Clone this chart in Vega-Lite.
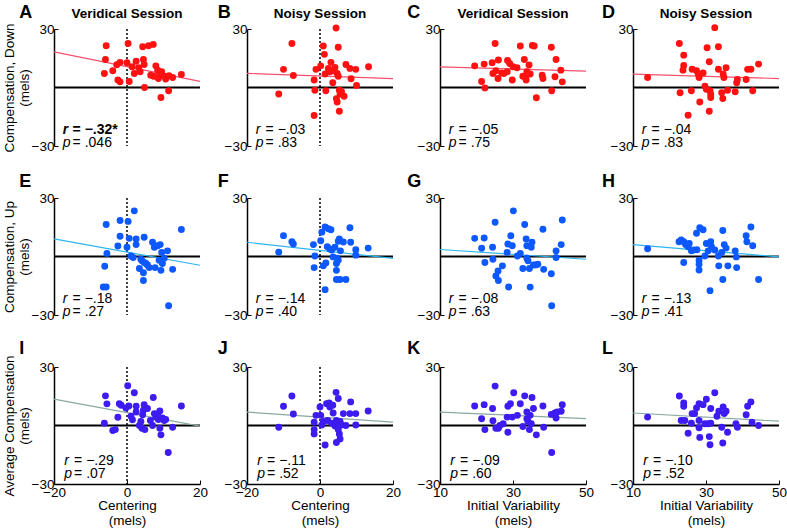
{
"$schema":"https://vega.github.io/schema/vega-lite/v6.json",
"padding":{"left":2,"top":3,"right":5,"bottom":2},
"datasets":{
"st":[
{"panel":"A","title":"Veridical Session","r":"= −.32*","p":"= .046"},
{"panel":"B","title":"Noisy Session","r":"= −.03","p":"= .83"},
{"panel":"C","title":"Veridical Session","r":"= −.05","p":"= .75"},
{"panel":"D","title":"Noisy Session","r":"= −.04","p":"= .83"},
{"panel":"E","title":"","r":"= −.18","p":"= .27"},
{"panel":"F","title":"","r":"= −.14","p":"= .40"},
{"panel":"G","title":"","r":"= −.08","p":"= .63"},
{"panel":"H","title":"","r":"= −.13","p":"= .41"},
{"panel":"I","title":"","r":"= −.29","p":"= .07"},
{"panel":"J","title":"","r":"= −.11","p":"= .52"},
{"panel":"K","title":"","r":"= −.09","p":"= .60"},
{"panel":"L","title":"","r":"= −.10","p":"= .52"}
],
"fit":[
{"panel":"A","x":-20,"y":18.3},{"panel":"A","x":20,"y":3.1},
{"panel":"B","x":-20,"y":7.2},{"panel":"B","x":20,"y":4.6},
{"panel":"C","x":10,"y":10.6},{"panel":"C","x":50,"y":8.4},
{"panel":"D","x":10,"y":6.9},{"panel":"D","x":50,"y":4.6},
{"panel":"E","x":-20,"y":9.0},{"panel":"E","x":20,"y":-4.5},
{"panel":"F","x":-20,"y":7.3},{"panel":"F","x":20,"y":-1.0},
{"panel":"G","x":10,"y":3.6},{"panel":"G","x":50,"y":-1.4},
{"panel":"H","x":10,"y":6.1},{"panel":"H","x":50,"y":-0.2},
{"panel":"I","x":-20,"y":13.5},{"panel":"I","x":20,"y":-0.3},
{"panel":"J","x":-20,"y":6.9},{"panel":"J","x":20,"y":1.7},
{"panel":"K","x":10,"y":6.9},{"panel":"K","x":50,"y":3.5},
{"panel":"L","x":10,"y":6.4},{"panel":"L","x":50,"y":2.2}
],
"pts":[
{"panel":"A","x":-5.7,"y":21.4},{"panel":"A","x":-5.9,"y":14.4},{"panel":"A","x":-6.2,"y":7.2},{"panel":"A","x":-3.9,"y":8.6},{"panel":"A","x":-2.8,"y":11.7},{"panel":"A","x":-1.9,"y":12.9},{"panel":"A","x":-2.5,"y":3.8},{"panel":"A","x":-1.9,"y":2.9},{"panel":"A","x":0.3,"y":22.6},{"panel":"A","x":0,"y":12.7},{"panel":"A","x":0.6,"y":3.1},{"panel":"A","x":1.4,"y":10.6},{"panel":"A","x":2.0,"y":7.2},{"panel":"A","x":2.5,"y":13.5},{"panel":"A","x":3.2,"y":10.1},{"panel":"A","x":3.6,"y":8.1},{"panel":"A","x":4.3,"y":20.9},{"panel":"A","x":4.5,"y":14.4},{"panel":"A","x":4.7,"y":11.8},{"panel":"A","x":4.8,"y":0},{"panel":"A","x":5.9,"y":21.4},{"panel":"A","x":7.2,"y":22.1},{"panel":"A","x":6.5,"y":6.3},{"panel":"A","x":7.3,"y":5.8},{"panel":"A","x":7.9,"y":11.1},{"panel":"A","x":8.4,"y":8.9},{"panel":"A","x":8.6,"y":4.6},{"panel":"A","x":9.0,"y":6.9},{"panel":"A","x":9.3,"y":-5.1},{"panel":"A","x":9.5,"y":8.1},{"panel":"A","x":10.2,"y":5.8},{"panel":"A","x":10.6,"y":4.3},{"panel":"A","x":11.4,"y":-1.7},{"panel":"A","x":11.5,"y":6.0},{"panel":"A","x":12.5,"y":5.1},{"panel":"A","x":14.9,"y":6.7},
{"panel":"B","x":-11.3,"y":-3.3},{"panel":"B","x":-10,"y":9.3},{"panel":"B","x":-7.7,"y":22.6},{"panel":"B","x":-7.3,"y":6.2},{"panel":"B","x":-1.6,"y":3.8},{"panel":"B","x":-1.4,"y":-1.4},{"panel":"B","x":-1.6,"y":-14.4},{"panel":"B","x":-1.1,"y":9.3},{"panel":"B","x":0.2,"y":11.1},{"panel":"B","x":0.9,"y":21.3},{"panel":"B","x":1.2,"y":17.0},{"panel":"B","x":1.4,"y":6.9},{"panel":"B","x":1.6,"y":-1.7},{"panel":"B","x":2.3,"y":9.8},{"panel":"B","x":2.7,"y":8.1},{"panel":"B","x":3.0,"y":12.9},{"panel":"B","x":3.5,"y":2.4},{"panel":"B","x":3.6,"y":8.6},{"panel":"B","x":4.1,"y":10.3},{"panel":"B","x":4.4,"y":30.5},{"panel":"B","x":4.7,"y":7.2},{"panel":"B","x":5.0,"y":5.8},{"panel":"B","x":5.0,"y":20.6},{"panel":"B","x":4.5,"y":-5.7},{"panel":"B","x":4.7,"y":-7.4},{"panel":"B","x":5.3,"y":-1.4},{"panel":"B","x":5.5,"y":-3.4},{"panel":"B","x":5.3,"y":-12.2},{"panel":"B","x":5.9,"y":-2.2},{"panel":"B","x":6.6,"y":-4.5},{"panel":"B","x":7.1,"y":11.8},{"panel":"B","x":8.2,"y":9.8},{"panel":"B","x":8.5,"y":4.5},{"panel":"B","x":9.8,"y":9.3},{"panel":"B","x":10,"y":1.0},{"panel":"B","x":13.3,"y":10.6},
{"panel":"C","x":19.5,"y":11.1},{"panel":"C","x":21.4,"y":3.1},{"panel":"C","x":22.3,"y":-0.2},{"panel":"C","x":22.1,"y":12.0},{"panel":"C","x":24.3,"y":12.7},{"panel":"C","x":24.5,"y":7.2},{"panel":"C","x":25.1,"y":22.6},{"panel":"C","x":25.3,"y":8.6},{"panel":"C","x":26.0,"y":14.1},{"panel":"C","x":25.9,"y":4.6},{"panel":"C","x":26.9,"y":7.5},{"panel":"C","x":27.5,"y":7.2},{"panel":"C","x":28.5,"y":13.9},{"panel":"C","x":28.4,"y":8.1},{"panel":"C","x":29.1,"y":12.3},{"panel":"C","x":29.8,"y":3.8},{"panel":"C","x":30.0,"y":10.6},{"panel":"C","x":31.1,"y":10.1},{"panel":"C","x":32.0,"y":21.3},{"panel":"C","x":33.1,"y":14.4},{"panel":"C","x":32.7,"y":5.8},{"panel":"C","x":33.5,"y":5.1},{"panel":"C","x":33.6,"y":3.8},{"panel":"C","x":33.8,"y":8.1},{"panel":"C","x":34.4,"y":11.5},{"panel":"C","x":34.7,"y":6.9},{"panel":"C","x":35.3,"y":21.6},{"panel":"C","x":35.8,"y":21.3},{"panel":"C","x":36.4,"y":-5.3},{"panel":"C","x":38.0,"y":6.3},{"panel":"C","x":38.2,"y":4.6},{"panel":"C","x":40.5,"y":20.6},{"panel":"C","x":40.6,"y":-1.7},{"panel":"C","x":41.5,"y":5.5},{"panel":"C","x":41.8,"y":14.4},{"panel":"C","x":43.1,"y":8.9},{"panel":"C","x":43.5,"y":2.9},
{"panel":"D","x":14.0,"y":5.1},{"panel":"D","x":22.7,"y":22.6},{"panel":"D","x":23.9,"y":16.6},{"panel":"D","x":23.9,"y":11.3},{"panel":"D","x":23.7,"y":8.9},{"panel":"D","x":22.9,"y":-2.7},{"panel":"D","x":25.1,"y":-14.2},{"panel":"D","x":26.0,"y":-1.7},{"panel":"D","x":26.2,"y":9.4},{"panel":"D","x":27.4,"y":8.6},{"panel":"D","x":27.9,"y":6.9},{"panel":"D","x":28.1,"y":5.1},{"panel":"D","x":28.3,"y":-7.4},{"panel":"D","x":29.2,"y":7.5},{"panel":"D","x":29.7,"y":0.7},{"panel":"D","x":30.1,"y":-0.9},{"panel":"D","x":30.3,"y":20.4},{"panel":"D","x":30.9,"y":13.2},{"panel":"D","x":31.1,"y":-1.7},{"panel":"D","x":31.3,"y":-3.4},{"panel":"D","x":31.3,"y":-5.1},{"panel":"D","x":30.9,"y":-12.2},{"panel":"D","x":32.4,"y":30.7},{"panel":"D","x":33.4,"y":20.9},{"panel":"D","x":33.4,"y":9.4},{"panel":"D","x":34.3,"y":-2.7},{"panel":"D","x":34.6,"y":-5.7},{"panel":"D","x":34.7,"y":6.9},{"panel":"D","x":34.9,"y":5.1},{"panel":"D","x":35.5,"y":10.1},{"panel":"D","x":35.9,"y":-1.4},{"panel":"D","x":38.0,"y":-2.2},{"panel":"D","x":38.4,"y":2.4},{"panel":"D","x":38.6,"y":4.1},{"panel":"D","x":41.0,"y":4.1},{"panel":"D","x":41.4,"y":9.3},{"panel":"D","x":42.3,"y":9.4},{"panel":"D","x":42.8,"y":-1.7},{"panel":"D","x":44.4,"y":12.0},
{"panel":"E","x":-5.7,"y":16.4},{"panel":"E","x":-6.1,"y":-5.0},{"panel":"E","x":-5.5,"y":1.6},{"panel":"E","x":-6.5,"y":-15.6},{"panel":"E","x":-5.7,"y":-15.6},{"panel":"E","x":-2.5,"y":5.4},{"panel":"E","x":-1.9,"y":10.4},{"panel":"E","x":-1.9,"y":18.5},{"panel":"E","x":0.3,"y":18.0},{"panel":"E","x":0,"y":4.7},{"panel":"E","x":0.6,"y":9.3},{"panel":"E","x":1.1,"y":0.3},{"panel":"E","x":1.7,"y":-0.5},{"panel":"E","x":2.0,"y":23.4},{"panel":"E","x":2.5,"y":9.0},{"panel":"E","x":2.5,"y":6.1},{"panel":"E","x":3.4,"y":-6.2},{"panel":"E","x":3.8,"y":-1.4},{"panel":"E","x":4.1,"y":-2.2},{"panel":"E","x":4.5,"y":-8.3},{"panel":"E","x":4.5,"y":-12.3},{"panel":"E","x":4.7,"y":9.9},{"panel":"E","x":4.7,"y":-3.1},{"panel":"E","x":5.2,"y":-3.6},{"panel":"E","x":5.6,"y":-4.3},{"panel":"E","x":6.1,"y":-5.7},{"panel":"E","x":7.0,"y":7.3},{"panel":"E","x":7.5,"y":4.7},{"panel":"E","x":7.7,"y":-5.7},{"panel":"E","x":8.4,"y":5.5},{"panel":"E","x":8.8,"y":-1.9},{"panel":"E","x":9.1,"y":6.1},{"panel":"E","x":9.3,"y":-7.1},{"panel":"E","x":9.5,"y":2.1},{"panel":"E","x":9.7,"y":-3.6},{"panel":"E","x":10.2,"y":-0.9},{"panel":"E","x":11.1,"y":2.9},{"panel":"E","x":11.4,"y":-25.3},{"panel":"E","x":12.5,"y":-6.6},{"panel":"E","x":14.9,"y":13.8},
{"panel":"F","x":-11.3,"y":2.2},{"panel":"F","x":-10,"y":10.7},{"panel":"F","x":-7.7,"y":7.6},{"panel":"F","x":-7.3,"y":6.4},{"panel":"F","x":-1.8,"y":6.1},{"panel":"F","x":-1.6,"y":-5.7},{"panel":"F","x":-1.4,"y":0.3},{"panel":"F","x":0.2,"y":8.1},{"panel":"F","x":0.5,"y":12.5},{"panel":"F","x":0.9,"y":-4.8},{"panel":"F","x":1.4,"y":15.1},{"panel":"F","x":1.6,"y":-3.3},{"panel":"F","x":1.4,"y":-17.0},{"panel":"F","x":2.0,"y":5.0},{"panel":"F","x":2.3,"y":14.2},{"panel":"F","x":3.0,"y":13.7},{"panel":"F","x":2.7,"y":3.8},{"panel":"F","x":3.2,"y":3.3},{"panel":"F","x":3.6,"y":-0.2},{"panel":"F","x":4.1,"y":4.7},{"panel":"F","x":4.5,"y":-7.1},{"panel":"F","x":4.5,"y":-11.8},{"panel":"F","x":4.5,"y":-3.6},{"panel":"F","x":4.7,"y":-0.9},{"panel":"F","x":5.0,"y":-1.9},{"panel":"F","x":5.0,"y":7.8},{"panel":"F","x":5.3,"y":9.0},{"panel":"F","x":5.5,"y":-11.8},{"panel":"F","x":5.6,"y":2.9},{"panel":"F","x":6.4,"y":7.4},{"panel":"F","x":7.1,"y":-11.8},{"panel":"F","x":8.2,"y":14.7},{"panel":"F","x":8.4,"y":7.3},{"panel":"F","x":9.8,"y":3.5},{"panel":"F","x":9.8,"y":0.7},{"panel":"F","x":13.2,"y":4.3},
{"panel":"G","x":19.5,"y":9.3},{"panel":"G","x":21.4,"y":4.2},{"panel":"G","x":22.3,"y":-3.1},{"panel":"G","x":22.1,"y":9.5},{"panel":"G","x":24.4,"y":4.7},{"panel":"G","x":24.5,"y":-1.4},{"panel":"G","x":25.1,"y":17.6},{"panel":"G","x":25.3,"y":-10.0},{"panel":"G","x":25.9,"y":-7.4},{"panel":"G","x":26.0,"y":-12.3},{"panel":"G","x":27.1,"y":-4.8},{"panel":"G","x":28.4,"y":2.1},{"panel":"G","x":28.6,"y":6.4},{"panel":"G","x":28.8,"y":-15.6},{"panel":"G","x":29.4,"y":10.6},{"panel":"G","x":29.8,"y":5.5},{"panel":"G","x":30.1,"y":23.4},{"panel":"G","x":31.2,"y":0.3},{"panel":"G","x":32.0,"y":1.6},{"panel":"G","x":32.7,"y":-6.2},{"panel":"G","x":33.2,"y":16.4},{"panel":"G","x":33.6,"y":9.0},{"panel":"G","x":33.8,"y":5.5},{"panel":"G","x":33.8,"y":-0.9},{"panel":"G","x":34.1,"y":-2.2},{"panel":"G","x":34.5,"y":-6.2},{"panel":"G","x":34.7,"y":-15.7},{"panel":"G","x":35.0,"y":4.7},{"panel":"G","x":35.2,"y":7.3},{"panel":"G","x":35.6,"y":-4.3},{"panel":"G","x":36.2,"y":-4.3},{"panel":"G","x":36.8,"y":-4.0},{"panel":"G","x":38.2,"y":14.0},{"panel":"G","x":38.4,"y":-6.6},{"panel":"G","x":40.5,"y":-8.8},{"panel":"G","x":40.6,"y":-25.3},{"panel":"G","x":41.8,"y":2.9},{"panel":"G","x":41.8,"y":-0.5},{"panel":"G","x":43.2,"y":6.1},{"panel":"G","x":43.5,"y":18.7},
{"panel":"H","x":14.0,"y":4.0},{"panel":"H","x":22.6,"y":7.6},{"panel":"H","x":23.2,"y":8.5},{"panel":"H","x":23.9,"y":7.6},{"panel":"H","x":23.9,"y":-3.1},{"panel":"H","x":24.4,"y":6.1},{"panel":"H","x":25.1,"y":5.0},{"panel":"H","x":25.4,"y":6.7},{"panel":"H","x":26.0,"y":2.9},{"panel":"H","x":26.6,"y":3.3},{"panel":"H","x":27.4,"y":11.9},{"panel":"H","x":27.5,"y":3.5},{"panel":"H","x":28.1,"y":-1.9},{"panel":"H","x":28.1,"y":-4.0},{"panel":"H","x":28.1,"y":-6.9},{"panel":"H","x":28.3,"y":14.7},{"panel":"H","x":29.2,"y":13.7},{"panel":"H","x":29.7,"y":0.3},{"panel":"H","x":30.1,"y":6.7},{"panel":"H","x":30.6,"y":2.9},{"panel":"H","x":31.1,"y":-17.5},{"panel":"H","x":31.3,"y":7.6},{"panel":"H","x":31.5,"y":5.0},{"panel":"H","x":32.4,"y":3.3},{"panel":"H","x":33.4,"y":0.3},{"panel":"H","x":33.5,"y":-4.8},{"panel":"H","x":34.3,"y":2.1},{"panel":"H","x":34.6,"y":13.3},{"panel":"H","x":34.6,"y":-11.8},{"panel":"H","x":35.0,"y":6.1},{"panel":"H","x":35.5,"y":4.3},{"panel":"H","x":36.0,"y":-4.8},{"panel":"H","x":38.0,"y":2.9},{"panel":"H","x":38.3,"y":-0.2},{"panel":"H","x":38.4,"y":-5.7},{"panel":"H","x":41.0,"y":10.7},{"panel":"H","x":41.2,"y":7.6},{"panel":"H","x":42.3,"y":15.1},{"panel":"H","x":42.8,"y":5.5},{"panel":"H","x":44.4,"y":-11.8},
{"panel":"I","x":-5.9,"y":15.2},{"panel":"I","x":-5.5,"y":11.1},{"panel":"I","x":-6.2,"y":1.2},{"panel":"I","x":-3.9,"y":-2.6},{"panel":"I","x":-3.2,"y":-2.1},{"panel":"I","x":-2.5,"y":4.2},{"panel":"I","x":-2.1,"y":11.2},{"panel":"I","x":-1.6,"y":10.4},{"panel":"I","x":-0.3,"y":9.0},{"panel":"I","x":0.2,"y":20.4},{"panel":"I","x":0.5,"y":10.0},{"panel":"I","x":1.1,"y":4.8},{"panel":"I","x":1.5,"y":2.9},{"panel":"I","x":2.0,"y":16.8},{"panel":"I","x":2.5,"y":9.9},{"panel":"I","x":2.5,"y":6.9},{"panel":"I","x":3.4,"y":0},{"panel":"I","x":3.8,"y":2.1},{"panel":"I","x":4.1,"y":-1.4},{"panel":"I","x":4.3,"y":5.5},{"panel":"I","x":4.5,"y":7.8},{"panel":"I","x":4.7,"y":10.7},{"panel":"I","x":4.9,"y":-2.1},{"panel":"I","x":5.6,"y":8.7},{"panel":"I","x":6.4,"y":2.6},{"panel":"I","x":7.0,"y":0},{"panel":"I","x":7.2,"y":14.4},{"panel":"I","x":7.5,"y":6.1},{"panel":"I","x":7.9,"y":4.3},{"panel":"I","x":8.4,"y":6.1},{"panel":"I","x":8.6,"y":3.1},{"panel":"I","x":9.0,"y":7.4},{"panel":"I","x":9.0,"y":-1.4},{"panel":"I","x":9.3,"y":-4.8},{"panel":"I","x":9.7,"y":3.8},{"panel":"I","x":10.2,"y":2.6},{"panel":"I","x":10.6,"y":3.1},{"panel":"I","x":11.3,"y":-13.8},{"panel":"I","x":12.5,"y":-0.9},{"panel":"I","x":14.9,"y":10.0},
{"panel":"J","x":-11.3,"y":-0.9},{"panel":"J","x":-10,"y":9.9},{"panel":"J","x":-7.7,"y":15.1},{"panel":"J","x":-7.3,"y":5.9},{"panel":"J","x":-1.6,"y":1.7},{"panel":"J","x":-1.6,"y":-2.1},{"panel":"J","x":-1.6,"y":-4.3},{"panel":"J","x":-1.1,"y":5.2},{"panel":"J","x":0,"y":9.5},{"panel":"J","x":0.2,"y":5.2},{"panel":"J","x":0.5,"y":0.3},{"panel":"J","x":0.9,"y":2.1},{"panel":"J","x":1.4,"y":-10.0},{"panel":"J","x":1.8,"y":11.2},{"panel":"J","x":2.1,"y":2.6},{"panel":"J","x":2.5,"y":11.6},{"panel":"J","x":2.7,"y":9.5},{"panel":"J","x":3.2,"y":1.2},{"panel":"J","x":3.5,"y":10.4},{"panel":"J","x":3.6,"y":6.4},{"panel":"J","x":4.1,"y":-0.3},{"panel":"J","x":4.4,"y":17.0},{"panel":"J","x":4.5,"y":2.6},{"panel":"J","x":4.5,"y":-8.7},{"panel":"J","x":4.7,"y":1.2},{"panel":"J","x":5.0,"y":13.8},{"panel":"J","x":5.0,"y":-2.1},{"panel":"J","x":5.3,"y":-4.3},{"panel":"J","x":5.5,"y":-6.9},{"panel":"J","x":5.5,"y":2.1},{"panel":"J","x":5.9,"y":0.3},{"panel":"J","x":6.4,"y":6.1},{"panel":"J","x":7.1,"y":0},{"panel":"J","x":8.4,"y":12.1},{"panel":"J","x":8.2,"y":6.1},{"panel":"J","x":9.8,"y":6.1},{"panel":"J","x":9.8,"y":0.3},{"panel":"J","x":13.2,"y":7.4},
{"panel":"K","x":19.5,"y":10.0},{"panel":"K","x":21.4,"y":3.5},{"panel":"K","x":22.3,"y":-2.1},{"panel":"K","x":22.1,"y":10.7},{"panel":"K","x":24.4,"y":8.7},{"panel":"K","x":24.5,"y":2.4},{"panel":"K","x":25.1,"y":20.2},{"panel":"K","x":25.3,"y":-1.4},{"panel":"K","x":26.0,"y":-1.4},{"panel":"K","x":26.4,"y":0},{"panel":"K","x":27.3,"y":0.9},{"panel":"K","x":28.4,"y":4.3},{"panel":"K","x":28.6,"y":-3.5},{"panel":"K","x":28.6,"y":9.9},{"panel":"K","x":29.3,"y":11.2},{"panel":"K","x":29.8,"y":4.3},{"panel":"K","x":30.2,"y":16.8},{"panel":"K","x":31.2,"y":5.2},{"panel":"K","x":32.0,"y":11.2},{"panel":"K","x":32.7,"y":-0.5},{"panel":"K","x":33.2,"y":15.2},{"panel":"K","x":33.8,"y":6.9},{"panel":"K","x":33.8,"y":3.5},{"panel":"K","x":34.1,"y":2.1},{"panel":"K","x":34.5,"y":-2.1},{"panel":"K","x":34.7,"y":5.2},{"panel":"K","x":35.0,"y":0.9},{"panel":"K","x":35.2,"y":14.4},{"panel":"K","x":35.6,"y":8.7},{"panel":"K","x":36.4,"y":-4.8},{"panel":"K","x":38.2,"y":10.0},{"panel":"K","x":38.4,"y":-0.9},{"panel":"K","x":40.5,"y":5.7},{"panel":"K","x":40.6,"y":-13.8},{"panel":"K","x":41.5,"y":6.4},{"panel":"K","x":41.8,"y":3.8},{"panel":"K","x":42.1,"y":6.9},{"panel":"K","x":43.2,"y":7.3},{"panel":"K","x":43.5,"y":10.7},
{"panel":"L","x":14.0,"y":4.3},{"panel":"L","x":22.7,"y":15.1},{"panel":"L","x":23.2,"y":2.6},{"panel":"L","x":23.9,"y":11.6},{"panel":"L","x":23.9,"y":9.9},{"panel":"L","x":24.2,"y":2.6},{"panel":"L","x":25.1,"y":-4.0},{"panel":"L","x":26.0,"y":1.2},{"panel":"L","x":26.2,"y":6.1},{"panel":"L","x":26.9,"y":6.1},{"panel":"L","x":27.4,"y":9.0},{"panel":"L","x":28.1,"y":11.2},{"panel":"L","x":28.1,"y":2.6},{"panel":"L","x":28.1,"y":-1.2},{"panel":"L","x":28.3,"y":-6.1},{"panel":"L","x":29.2,"y":10.7},{"panel":"L","x":29.7,"y":0.9},{"panel":"L","x":30.1,"y":13.5},{"panel":"L","x":30.6,"y":0.9},{"panel":"L","x":30.9,"y":-5.7},{"panel":"L","x":31.1,"y":-9.9},{"panel":"L","x":31.3,"y":8.7},{"panel":"L","x":31.3,"y":1.2},{"panel":"L","x":32.4,"y":16.8},{"panel":"L","x":33.0,"y":4.7},{"panel":"L","x":33.5,"y":7.3},{"panel":"L","x":34.3,"y":-0.9},{"panel":"L","x":34.6,"y":-9.0},{"panel":"L","x":34.7,"y":9.5},{"panel":"L","x":35.0,"y":6.1},{"panel":"L","x":35.5,"y":7.3},{"panel":"L","x":35.9,"y":-3.5},{"panel":"L","x":38.2,"y":0.9},{"panel":"L","x":38.6,"y":-0.9},{"panel":"L","x":41.0,"y":5.5},{"panel":"L","x":41.4,"y":9.9},{"panel":"L","x":42.3,"y":12.1},{"panel":"L","x":42.6,"y":1.7},{"panel":"L","x":44.4,"y":0}
]
},
"columns":4,
"spacing":{"row":52,"column":47},
"bounds":"flush",
"concat":[
{"width":146,"height":117,"layer":[
{"data":{"values":[{}]},"mark":{"type":"rule","color":"#000","strokeWidth":2},"encoding":{"y":{"datum":0}}},
{"data":{"values":[{}]},"mark":{"type":"rule","color":"#000","strokeWidth":1.5,"strokeDash":[2,2]},"encoding":{"x":{"datum":0,"axis":null}}},
{"data":{"name":"st"},"transform":[{"filter":"datum.panel==='A'"}],"mark":{"type":"text","align":"left","baseline":"alphabetic","fontSize":18,"fontWeight":"bold"},"encoding":{"x":{"datum":-29.5,"axis":null},"y":{"datum":35.8},"text":{"field":"panel"}}},
{"data":{"name":"st"},"transform":[{"filter":"datum.panel==='A'"}],"mark":{"type":"text","align":"center","baseline":"alphabetic","fontSize":13.5,"fontWeight":"bold"},"encoding":{"x":{"datum":0,"axis":null},"y":{"datum":35.8},"text":{"field":"title"}}},
{"data":{"name":"st"},"transform":[{"filter":"datum.panel==='A'"}],"mark":{"type":"text","text":"r","align":"left","baseline":"alphabetic","fontSize":14,"fontStyle":"italic","fontWeight":"bold"},"encoding":{"x":{"datum":-17.6,"axis":null},"y":{"datum":-24}}},
{"data":{"name":"st"},"transform":[{"filter":"datum.panel==='A'"}],"mark":{"type":"text","align":"left","baseline":"alphabetic","fontSize":14,"fontWeight":"bold"},"encoding":{"x":{"datum":-14.9,"axis":null},"y":{"datum":-24},"text":{"field":"r"}}},
{"data":{"name":"st"},"transform":[{"filter":"datum.panel==='A'"}],"mark":{"type":"text","text":"p","align":"left","baseline":"alphabetic","fontSize":14,"fontStyle":"italic"},"encoding":{"x":{"datum":-17.6,"axis":null},"y":{"datum":-30.6}}},
{"data":{"name":"st"},"transform":[{"filter":"datum.panel==='A'"}],"mark":{"type":"text","align":"left","baseline":"alphabetic","fontSize":14},"encoding":{"x":{"datum":-14.9,"axis":null},"y":{"datum":-30.6},"text":{"field":"p"}}},
{"data":{"name":"fit"},"transform":[{"filter":"datum.panel==='A'"}],"mark":{"type":"line","color":"#f5506e","strokeWidth":1.2},"encoding":{"x":{"field":"x","type":"quantitative","scale":{"domain":[-20,20],"nice":false,"zero":false},"axis":null},"y":{"field":"y","type":"quantitative","scale":{"domain":[-30,30],"nice":false,"zero":false}}}},
{"data":{"name":"pts"},"transform":[{"filter":"datum.panel==='A'"}],"mark":{"type":"circle","size":48,"opacity":1,"color":"#ff1111"},"encoding":{"x":{"field":"x","type":"quantitative","axis":null},"y":{"field":"y","type":"quantitative","axis":{"values":[-30,-20,-10,0,10,20,30],"labelExpr":"datum.value%30===0?datum.label:''","title":["Compensation, Down","(mels)"]}}}}
]},
{"width":146,"height":117,"layer":[
{"data":{"values":[{}]},"mark":{"type":"rule","color":"#000","strokeWidth":2},"encoding":{"y":{"datum":0}}},
{"data":{"values":[{}]},"mark":{"type":"rule","color":"#000","strokeWidth":1.5,"strokeDash":[2,2]},"encoding":{"x":{"datum":0,"axis":null}}},
{"data":{"name":"st"},"transform":[{"filter":"datum.panel==='B'"}],"mark":{"type":"text","align":"left","baseline":"alphabetic","fontSize":18,"fontWeight":"bold"},"encoding":{"x":{"datum":-28,"axis":null},"y":{"datum":35.8},"text":{"field":"panel"}}},
{"data":{"name":"st"},"transform":[{"filter":"datum.panel==='B'"}],"mark":{"type":"text","align":"center","baseline":"alphabetic","fontSize":13.5,"fontWeight":"bold"},"encoding":{"x":{"datum":0,"axis":null},"y":{"datum":35.8},"text":{"field":"title"}}},
{"data":{"name":"st"},"transform":[{"filter":"datum.panel==='B'"}],"mark":{"type":"text","text":"r","align":"left","baseline":"alphabetic","fontSize":14,"fontStyle":"italic"},"encoding":{"x":{"datum":-17.6,"axis":null},"y":{"datum":-24}}},
{"data":{"name":"st"},"transform":[{"filter":"datum.panel==='B'"}],"mark":{"type":"text","align":"left","baseline":"alphabetic","fontSize":14},"encoding":{"x":{"datum":-14.9,"axis":null},"y":{"datum":-24},"text":{"field":"r"}}},
{"data":{"name":"st"},"transform":[{"filter":"datum.panel==='B'"}],"mark":{"type":"text","text":"p","align":"left","baseline":"alphabetic","fontSize":14,"fontStyle":"italic"},"encoding":{"x":{"datum":-17.6,"axis":null},"y":{"datum":-30.6}}},
{"data":{"name":"st"},"transform":[{"filter":"datum.panel==='B'"}],"mark":{"type":"text","align":"left","baseline":"alphabetic","fontSize":14},"encoding":{"x":{"datum":-14.9,"axis":null},"y":{"datum":-30.6},"text":{"field":"p"}}},
{"data":{"name":"fit"},"transform":[{"filter":"datum.panel==='B'"}],"mark":{"type":"line","color":"#f5506e","strokeWidth":1.2},"encoding":{"x":{"field":"x","type":"quantitative","scale":{"domain":[-20,20],"nice":false,"zero":false},"axis":null},"y":{"field":"y","type":"quantitative","scale":{"domain":[-30,30],"nice":false,"zero":false}}}},
{"data":{"name":"pts"},"transform":[{"filter":"datum.panel==='B'"}],"mark":{"type":"circle","size":48,"opacity":1,"color":"#ff1111"},"encoding":{"x":{"field":"x","type":"quantitative","axis":null},"y":{"field":"y","type":"quantitative","axis":{"values":[-30,-20,-10,0,10,20,30],"labelExpr":"datum.value%30===0?datum.label:''","title":null}}}}
]},
{"width":146,"height":117,"layer":[
{"data":{"values":[{}]},"mark":{"type":"rule","color":"#000","strokeWidth":2},"encoding":{"y":{"datum":0}}},
{"data":{"name":"st"},"transform":[{"filter":"datum.panel==='C'"}],"mark":{"type":"text","align":"left","baseline":"alphabetic","fontSize":18,"fontWeight":"bold"},"encoding":{"x":{"datum":1,"axis":null},"y":{"datum":35.8},"text":{"field":"panel"}}},
{"data":{"name":"st"},"transform":[{"filter":"datum.panel==='C'"}],"mark":{"type":"text","align":"center","baseline":"alphabetic","fontSize":13.5,"fontWeight":"bold"},"encoding":{"x":{"datum":30,"axis":null},"y":{"datum":35.8},"text":{"field":"title"}}},
{"data":{"name":"st"},"transform":[{"filter":"datum.panel==='C'"}],"mark":{"type":"text","text":"r","align":"left","baseline":"alphabetic","fontSize":14,"fontStyle":"italic"},"encoding":{"x":{"datum":12.4,"axis":null},"y":{"datum":-24}}},
{"data":{"name":"st"},"transform":[{"filter":"datum.panel==='C'"}],"mark":{"type":"text","align":"left","baseline":"alphabetic","fontSize":14},"encoding":{"x":{"datum":15.1,"axis":null},"y":{"datum":-24},"text":{"field":"r"}}},
{"data":{"name":"st"},"transform":[{"filter":"datum.panel==='C'"}],"mark":{"type":"text","text":"p","align":"left","baseline":"alphabetic","fontSize":14,"fontStyle":"italic"},"encoding":{"x":{"datum":12.4,"axis":null},"y":{"datum":-30.6}}},
{"data":{"name":"st"},"transform":[{"filter":"datum.panel==='C'"}],"mark":{"type":"text","align":"left","baseline":"alphabetic","fontSize":14},"encoding":{"x":{"datum":15.1,"axis":null},"y":{"datum":-30.6},"text":{"field":"p"}}},
{"data":{"name":"fit"},"transform":[{"filter":"datum.panel==='C'"}],"mark":{"type":"line","color":"#f5506e","strokeWidth":1.2},"encoding":{"x":{"field":"x","type":"quantitative","scale":{"domain":[10,50],"nice":false,"zero":false},"axis":null},"y":{"field":"y","type":"quantitative","scale":{"domain":[-30,30],"nice":false,"zero":false}}}},
{"data":{"name":"pts"},"transform":[{"filter":"datum.panel==='C'"}],"mark":{"type":"circle","size":48,"opacity":1,"color":"#ff1111"},"encoding":{"x":{"field":"x","type":"quantitative","axis":null},"y":{"field":"y","type":"quantitative","axis":{"values":[-30,-20,-10,0,10,20,30],"labelExpr":"datum.value%30===0?datum.label:''","title":null}}}}
]},
{"width":146,"height":117,"layer":[
{"data":{"values":[{}]},"mark":{"type":"rule","color":"#000","strokeWidth":2},"encoding":{"y":{"datum":0}}},
{"data":{"name":"st"},"transform":[{"filter":"datum.panel==='D'"}],"mark":{"type":"text","align":"left","baseline":"alphabetic","fontSize":18,"fontWeight":"bold"},"encoding":{"x":{"datum":1.5,"axis":null},"y":{"datum":35.8},"text":{"field":"panel"}}},
{"data":{"name":"st"},"transform":[{"filter":"datum.panel==='D'"}],"mark":{"type":"text","align":"center","baseline":"alphabetic","fontSize":13.5,"fontWeight":"bold"},"encoding":{"x":{"datum":30,"axis":null},"y":{"datum":35.8},"text":{"field":"title"}}},
{"data":{"name":"st"},"transform":[{"filter":"datum.panel==='D'"}],"mark":{"type":"text","text":"r","align":"left","baseline":"alphabetic","fontSize":14,"fontStyle":"italic"},"encoding":{"x":{"datum":12.4,"axis":null},"y":{"datum":-24}}},
{"data":{"name":"st"},"transform":[{"filter":"datum.panel==='D'"}],"mark":{"type":"text","align":"left","baseline":"alphabetic","fontSize":14},"encoding":{"x":{"datum":15.1,"axis":null},"y":{"datum":-24},"text":{"field":"r"}}},
{"data":{"name":"st"},"transform":[{"filter":"datum.panel==='D'"}],"mark":{"type":"text","text":"p","align":"left","baseline":"alphabetic","fontSize":14,"fontStyle":"italic"},"encoding":{"x":{"datum":12.4,"axis":null},"y":{"datum":-30.6}}},
{"data":{"name":"st"},"transform":[{"filter":"datum.panel==='D'"}],"mark":{"type":"text","align":"left","baseline":"alphabetic","fontSize":14},"encoding":{"x":{"datum":15.1,"axis":null},"y":{"datum":-30.6},"text":{"field":"p"}}},
{"data":{"name":"fit"},"transform":[{"filter":"datum.panel==='D'"}],"mark":{"type":"line","color":"#f5506e","strokeWidth":1.2},"encoding":{"x":{"field":"x","type":"quantitative","scale":{"domain":[10,50],"nice":false,"zero":false},"axis":null},"y":{"field":"y","type":"quantitative","scale":{"domain":[-30,30],"nice":false,"zero":false}}}},
{"data":{"name":"pts"},"transform":[{"filter":"datum.panel==='D'"}],"mark":{"type":"circle","size":48,"opacity":1,"color":"#ff1111"},"encoding":{"x":{"field":"x","type":"quantitative","axis":null},"y":{"field":"y","type":"quantitative","axis":{"values":[-30,-20,-10,0,10,20,30],"labelExpr":"datum.value%30===0?datum.label:''","title":null}}}}
]},
{"width":146,"height":117,"layer":[
{"data":{"values":[{}]},"mark":{"type":"rule","color":"#000","strokeWidth":2},"encoding":{"y":{"datum":0}}},
{"data":{"values":[{}]},"mark":{"type":"rule","color":"#000","strokeWidth":1.5,"strokeDash":[2,2]},"encoding":{"x":{"datum":0,"axis":null}}},
{"data":{"name":"st"},"transform":[{"filter":"datum.panel==='E'"}],"mark":{"type":"text","align":"left","baseline":"alphabetic","fontSize":18,"fontWeight":"bold"},"encoding":{"x":{"datum":-29.5,"axis":null},"y":{"datum":35.8},"text":{"field":"panel"}}},
{"data":{"name":"st"},"transform":[{"filter":"datum.panel==='E'"}],"mark":{"type":"text","text":"r","align":"left","baseline":"alphabetic","fontSize":14,"fontStyle":"italic"},"encoding":{"x":{"datum":-17.6,"axis":null},"y":{"datum":-24}}},
{"data":{"name":"st"},"transform":[{"filter":"datum.panel==='E'"}],"mark":{"type":"text","align":"left","baseline":"alphabetic","fontSize":14},"encoding":{"x":{"datum":-14.9,"axis":null},"y":{"datum":-24},"text":{"field":"r"}}},
{"data":{"name":"st"},"transform":[{"filter":"datum.panel==='E'"}],"mark":{"type":"text","text":"p","align":"left","baseline":"alphabetic","fontSize":14,"fontStyle":"italic"},"encoding":{"x":{"datum":-17.6,"axis":null},"y":{"datum":-30.6}}},
{"data":{"name":"st"},"transform":[{"filter":"datum.panel==='E'"}],"mark":{"type":"text","align":"left","baseline":"alphabetic","fontSize":14},"encoding":{"x":{"datum":-14.9,"axis":null},"y":{"datum":-30.6},"text":{"field":"p"}}},
{"data":{"name":"fit"},"transform":[{"filter":"datum.panel==='E'"}],"mark":{"type":"line","color":"#2cb5f0","strokeWidth":1.2},"encoding":{"x":{"field":"x","type":"quantitative","scale":{"domain":[-20,20],"nice":false,"zero":false},"axis":null},"y":{"field":"y","type":"quantitative","scale":{"domain":[-30,30],"nice":false,"zero":false}}}},
{"data":{"name":"pts"},"transform":[{"filter":"datum.panel==='E'"}],"mark":{"type":"circle","size":48,"opacity":1,"color":"#0d58ff"},"encoding":{"x":{"field":"x","type":"quantitative","axis":null},"y":{"field":"y","type":"quantitative","axis":{"values":[-30,-20,-10,0,10,20,30],"labelExpr":"datum.value%30===0?datum.label:''","title":["Compensation, Up","(mels)"]}}}}
]},
{"width":146,"height":117,"layer":[
{"data":{"values":[{}]},"mark":{"type":"rule","color":"#000","strokeWidth":2},"encoding":{"y":{"datum":0}}},
{"data":{"values":[{}]},"mark":{"type":"rule","color":"#000","strokeWidth":1.5,"strokeDash":[2,2]},"encoding":{"x":{"datum":0,"axis":null}}},
{"data":{"name":"st"},"transform":[{"filter":"datum.panel==='F'"}],"mark":{"type":"text","align":"left","baseline":"alphabetic","fontSize":18,"fontWeight":"bold"},"encoding":{"x":{"datum":-28,"axis":null},"y":{"datum":35.8},"text":{"field":"panel"}}},
{"data":{"name":"st"},"transform":[{"filter":"datum.panel==='F'"}],"mark":{"type":"text","text":"r","align":"left","baseline":"alphabetic","fontSize":14,"fontStyle":"italic"},"encoding":{"x":{"datum":-17.6,"axis":null},"y":{"datum":-24}}},
{"data":{"name":"st"},"transform":[{"filter":"datum.panel==='F'"}],"mark":{"type":"text","align":"left","baseline":"alphabetic","fontSize":14},"encoding":{"x":{"datum":-14.9,"axis":null},"y":{"datum":-24},"text":{"field":"r"}}},
{"data":{"name":"st"},"transform":[{"filter":"datum.panel==='F'"}],"mark":{"type":"text","text":"p","align":"left","baseline":"alphabetic","fontSize":14,"fontStyle":"italic"},"encoding":{"x":{"datum":-17.6,"axis":null},"y":{"datum":-30.6}}},
{"data":{"name":"st"},"transform":[{"filter":"datum.panel==='F'"}],"mark":{"type":"text","align":"left","baseline":"alphabetic","fontSize":14},"encoding":{"x":{"datum":-14.9,"axis":null},"y":{"datum":-30.6},"text":{"field":"p"}}},
{"data":{"name":"fit"},"transform":[{"filter":"datum.panel==='F'"}],"mark":{"type":"line","color":"#2cb5f0","strokeWidth":1.2},"encoding":{"x":{"field":"x","type":"quantitative","scale":{"domain":[-20,20],"nice":false,"zero":false},"axis":null},"y":{"field":"y","type":"quantitative","scale":{"domain":[-30,30],"nice":false,"zero":false}}}},
{"data":{"name":"pts"},"transform":[{"filter":"datum.panel==='F'"}],"mark":{"type":"circle","size":48,"opacity":1,"color":"#0d58ff"},"encoding":{"x":{"field":"x","type":"quantitative","axis":null},"y":{"field":"y","type":"quantitative","axis":{"values":[-30,-20,-10,0,10,20,30],"labelExpr":"datum.value%30===0?datum.label:''","title":null}}}}
]},
{"width":146,"height":117,"layer":[
{"data":{"values":[{}]},"mark":{"type":"rule","color":"#000","strokeWidth":2},"encoding":{"y":{"datum":0}}},
{"data":{"name":"st"},"transform":[{"filter":"datum.panel==='G'"}],"mark":{"type":"text","align":"left","baseline":"alphabetic","fontSize":18,"fontWeight":"bold"},"encoding":{"x":{"datum":1,"axis":null},"y":{"datum":35.8},"text":{"field":"panel"}}},
{"data":{"name":"st"},"transform":[{"filter":"datum.panel==='G'"}],"mark":{"type":"text","text":"r","align":"left","baseline":"alphabetic","fontSize":14,"fontStyle":"italic"},"encoding":{"x":{"datum":12.4,"axis":null},"y":{"datum":-24}}},
{"data":{"name":"st"},"transform":[{"filter":"datum.panel==='G'"}],"mark":{"type":"text","align":"left","baseline":"alphabetic","fontSize":14},"encoding":{"x":{"datum":15.1,"axis":null},"y":{"datum":-24},"text":{"field":"r"}}},
{"data":{"name":"st"},"transform":[{"filter":"datum.panel==='G'"}],"mark":{"type":"text","text":"p","align":"left","baseline":"alphabetic","fontSize":14,"fontStyle":"italic"},"encoding":{"x":{"datum":12.4,"axis":null},"y":{"datum":-30.6}}},
{"data":{"name":"st"},"transform":[{"filter":"datum.panel==='G'"}],"mark":{"type":"text","align":"left","baseline":"alphabetic","fontSize":14},"encoding":{"x":{"datum":15.1,"axis":null},"y":{"datum":-30.6},"text":{"field":"p"}}},
{"data":{"name":"fit"},"transform":[{"filter":"datum.panel==='G'"}],"mark":{"type":"line","color":"#2cb5f0","strokeWidth":1.2},"encoding":{"x":{"field":"x","type":"quantitative","scale":{"domain":[10,50],"nice":false,"zero":false},"axis":null},"y":{"field":"y","type":"quantitative","scale":{"domain":[-30,30],"nice":false,"zero":false}}}},
{"data":{"name":"pts"},"transform":[{"filter":"datum.panel==='G'"}],"mark":{"type":"circle","size":48,"opacity":1,"color":"#0d58ff"},"encoding":{"x":{"field":"x","type":"quantitative","axis":null},"y":{"field":"y","type":"quantitative","axis":{"values":[-30,-20,-10,0,10,20,30],"labelExpr":"datum.value%30===0?datum.label:''","title":null}}}}
]},
{"width":146,"height":117,"layer":[
{"data":{"values":[{}]},"mark":{"type":"rule","color":"#000","strokeWidth":2},"encoding":{"y":{"datum":0}}},
{"data":{"name":"st"},"transform":[{"filter":"datum.panel==='H'"}],"mark":{"type":"text","align":"left","baseline":"alphabetic","fontSize":18,"fontWeight":"bold"},"encoding":{"x":{"datum":1.5,"axis":null},"y":{"datum":35.8},"text":{"field":"panel"}}},
{"data":{"name":"st"},"transform":[{"filter":"datum.panel==='H'"}],"mark":{"type":"text","text":"r","align":"left","baseline":"alphabetic","fontSize":14,"fontStyle":"italic"},"encoding":{"x":{"datum":12.4,"axis":null},"y":{"datum":-24}}},
{"data":{"name":"st"},"transform":[{"filter":"datum.panel==='H'"}],"mark":{"type":"text","align":"left","baseline":"alphabetic","fontSize":14},"encoding":{"x":{"datum":15.1,"axis":null},"y":{"datum":-24},"text":{"field":"r"}}},
{"data":{"name":"st"},"transform":[{"filter":"datum.panel==='H'"}],"mark":{"type":"text","text":"p","align":"left","baseline":"alphabetic","fontSize":14,"fontStyle":"italic"},"encoding":{"x":{"datum":12.4,"axis":null},"y":{"datum":-30.6}}},
{"data":{"name":"st"},"transform":[{"filter":"datum.panel==='H'"}],"mark":{"type":"text","align":"left","baseline":"alphabetic","fontSize":14},"encoding":{"x":{"datum":15.1,"axis":null},"y":{"datum":-30.6},"text":{"field":"p"}}},
{"data":{"name":"fit"},"transform":[{"filter":"datum.panel==='H'"}],"mark":{"type":"line","color":"#2cb5f0","strokeWidth":1.2},"encoding":{"x":{"field":"x","type":"quantitative","scale":{"domain":[10,50],"nice":false,"zero":false},"axis":null},"y":{"field":"y","type":"quantitative","scale":{"domain":[-30,30],"nice":false,"zero":false}}}},
{"data":{"name":"pts"},"transform":[{"filter":"datum.panel==='H'"}],"mark":{"type":"circle","size":48,"opacity":1,"color":"#0d58ff"},"encoding":{"x":{"field":"x","type":"quantitative","axis":null},"y":{"field":"y","type":"quantitative","axis":{"values":[-30,-20,-10,0,10,20,30],"labelExpr":"datum.value%30===0?datum.label:''","title":null}}}}
]},
{"width":146,"height":117,"layer":[
{"data":{"values":[{}]},"mark":{"type":"rule","color":"#000","strokeWidth":2},"encoding":{"y":{"datum":0}}},
{"data":{"values":[{}]},"mark":{"type":"rule","color":"#000","strokeWidth":1.5,"strokeDash":[2,2]},"encoding":{"x":{"datum":0}}},
{"data":{"name":"st"},"transform":[{"filter":"datum.panel==='I'"}],"mark":{"type":"text","align":"left","baseline":"alphabetic","fontSize":18,"fontWeight":"bold"},"encoding":{"x":{"datum":-29.5},"y":{"datum":36.5},"text":{"field":"panel"}}},
{"data":{"name":"st"},"transform":[{"filter":"datum.panel==='I'"}],"mark":{"type":"text","text":"r","align":"left","baseline":"alphabetic","fontSize":14,"fontStyle":"italic"},"encoding":{"x":{"datum":-17.2},"y":{"datum":-20.3}}},
{"data":{"name":"st"},"transform":[{"filter":"datum.panel==='I'"}],"mark":{"type":"text","align":"left","baseline":"alphabetic","fontSize":14},"encoding":{"x":{"datum":-14.5},"y":{"datum":-20.3},"text":{"field":"r"}}},
{"data":{"name":"st"},"transform":[{"filter":"datum.panel==='I'"}],"mark":{"type":"text","text":"p","align":"left","baseline":"alphabetic","fontSize":14,"fontStyle":"italic"},"encoding":{"x":{"datum":-17.2},"y":{"datum":-27}}},
{"data":{"name":"st"},"transform":[{"filter":"datum.panel==='I'"}],"mark":{"type":"text","align":"left","baseline":"alphabetic","fontSize":14},"encoding":{"x":{"datum":-14.5},"y":{"datum":-27},"text":{"field":"p"}}},
{"data":{"name":"fit"},"transform":[{"filter":"datum.panel==='I'"}],"mark":{"type":"line","color":"#8aa8a2","strokeWidth":1.2},"encoding":{"x":{"field":"x","type":"quantitative","scale":{"domain":[-20,20],"nice":false,"zero":false}},"y":{"field":"y","type":"quantitative","scale":{"domain":[-30,30],"nice":false,"zero":false}}}},
{"data":{"name":"pts"},"transform":[{"filter":"datum.panel==='I'"}],"mark":{"type":"circle","size":48,"opacity":1,"color":"#3c1cf0"},"encoding":{"x":{"field":"x","type":"quantitative","axis":{"values":[-20,-10,0,10,20],"labelExpr":"datum.value%20===0?datum.label:''","labelPadding":5,"title":["Centering","(mels)"]}},"y":{"field":"y","type":"quantitative","axis":{"values":[-30,-20,-10,0,10,20,30],"labelExpr":"datum.value%30===0?datum.label:''","title":["Average Compensation","(mels)"]}}}}
]},
{"width":146,"height":117,"layer":[
{"data":{"values":[{}]},"mark":{"type":"rule","color":"#000","strokeWidth":2},"encoding":{"y":{"datum":0}}},
{"data":{"values":[{}]},"mark":{"type":"rule","color":"#000","strokeWidth":1.5,"strokeDash":[2,2]},"encoding":{"x":{"datum":0}}},
{"data":{"name":"st"},"transform":[{"filter":"datum.panel==='J'"}],"mark":{"type":"text","align":"left","baseline":"alphabetic","fontSize":18,"fontWeight":"bold"},"encoding":{"x":{"datum":-28},"y":{"datum":36.5},"text":{"field":"panel"}}},
{"data":{"name":"st"},"transform":[{"filter":"datum.panel==='J'"}],"mark":{"type":"text","text":"r","align":"left","baseline":"alphabetic","fontSize":14,"fontStyle":"italic"},"encoding":{"x":{"datum":-17.2},"y":{"datum":-20.3}}},
{"data":{"name":"st"},"transform":[{"filter":"datum.panel==='J'"}],"mark":{"type":"text","align":"left","baseline":"alphabetic","fontSize":14},"encoding":{"x":{"datum":-14.5},"y":{"datum":-20.3},"text":{"field":"r"}}},
{"data":{"name":"st"},"transform":[{"filter":"datum.panel==='J'"}],"mark":{"type":"text","text":"p","align":"left","baseline":"alphabetic","fontSize":14,"fontStyle":"italic"},"encoding":{"x":{"datum":-17.2},"y":{"datum":-27}}},
{"data":{"name":"st"},"transform":[{"filter":"datum.panel==='J'"}],"mark":{"type":"text","align":"left","baseline":"alphabetic","fontSize":14},"encoding":{"x":{"datum":-14.5},"y":{"datum":-27},"text":{"field":"p"}}},
{"data":{"name":"fit"},"transform":[{"filter":"datum.panel==='J'"}],"mark":{"type":"line","color":"#8aa8a2","strokeWidth":1.2},"encoding":{"x":{"field":"x","type":"quantitative","scale":{"domain":[-20,20],"nice":false,"zero":false}},"y":{"field":"y","type":"quantitative","scale":{"domain":[-30,30],"nice":false,"zero":false}}}},
{"data":{"name":"pts"},"transform":[{"filter":"datum.panel==='J'"}],"mark":{"type":"circle","size":48,"opacity":1,"color":"#3c1cf0"},"encoding":{"x":{"field":"x","type":"quantitative","axis":{"values":[-20,-10,0,10,20],"labelExpr":"datum.value%20===0?datum.label:''","labelPadding":5,"title":["Centering","(mels)"]}},"y":{"field":"y","type":"quantitative","axis":{"values":[-30,-20,-10,0,10,20,30],"labelExpr":"datum.value%30===0?datum.label:''","title":null}}}}
]},
{"width":146,"height":117,"layer":[
{"data":{"values":[{}]},"mark":{"type":"rule","color":"#000","strokeWidth":2},"encoding":{"y":{"datum":0}}},
{"data":{"name":"st"},"transform":[{"filter":"datum.panel==='K'"}],"mark":{"type":"text","align":"left","baseline":"alphabetic","fontSize":18,"fontWeight":"bold"},"encoding":{"x":{"datum":1},"y":{"datum":36.5},"text":{"field":"panel"}}},
{"data":{"name":"st"},"transform":[{"filter":"datum.panel==='K'"}],"mark":{"type":"text","text":"r","align":"left","baseline":"alphabetic","fontSize":14,"fontStyle":"italic"},"encoding":{"x":{"datum":12.8},"y":{"datum":-20.3}}},
{"data":{"name":"st"},"transform":[{"filter":"datum.panel==='K'"}],"mark":{"type":"text","align":"left","baseline":"alphabetic","fontSize":14},"encoding":{"x":{"datum":15.5},"y":{"datum":-20.3},"text":{"field":"r"}}},
{"data":{"name":"st"},"transform":[{"filter":"datum.panel==='K'"}],"mark":{"type":"text","text":"p","align":"left","baseline":"alphabetic","fontSize":14,"fontStyle":"italic"},"encoding":{"x":{"datum":12.8},"y":{"datum":-27}}},
{"data":{"name":"st"},"transform":[{"filter":"datum.panel==='K'"}],"mark":{"type":"text","align":"left","baseline":"alphabetic","fontSize":14},"encoding":{"x":{"datum":15.5},"y":{"datum":-27},"text":{"field":"p"}}},
{"data":{"name":"fit"},"transform":[{"filter":"datum.panel==='K'"}],"mark":{"type":"line","color":"#8aa8a2","strokeWidth":1.2},"encoding":{"x":{"field":"x","type":"quantitative","scale":{"domain":[10,50],"nice":false,"zero":false}},"y":{"field":"y","type":"quantitative","scale":{"domain":[-30,30],"nice":false,"zero":false}}}},
{"data":{"name":"pts"},"transform":[{"filter":"datum.panel==='K'"}],"mark":{"type":"circle","size":48,"opacity":1,"color":"#3c1cf0"},"encoding":{"x":{"field":"x","type":"quantitative","axis":{"values":[10,20,30,40,50],"labelExpr":"(datum.value-10)%20===0?datum.label:''","labelPadding":5,"title":["Initial Variability","(mels)"]}},"y":{"field":"y","type":"quantitative","axis":{"values":[-30,-20,-10,0,10,20,30],"labelExpr":"datum.value%30===0?datum.label:''","title":null}}}}
]},
{"width":146,"height":117,"layer":[
{"data":{"values":[{}]},"mark":{"type":"rule","color":"#000","strokeWidth":2},"encoding":{"y":{"datum":0}}},
{"data":{"name":"st"},"transform":[{"filter":"datum.panel==='L'"}],"mark":{"type":"text","align":"left","baseline":"alphabetic","fontSize":18,"fontWeight":"bold"},"encoding":{"x":{"datum":1.5},"y":{"datum":36.5},"text":{"field":"panel"}}},
{"data":{"name":"st"},"transform":[{"filter":"datum.panel==='L'"}],"mark":{"type":"text","text":"r","align":"left","baseline":"alphabetic","fontSize":14,"fontStyle":"italic"},"encoding":{"x":{"datum":12.8},"y":{"datum":-20.3}}},
{"data":{"name":"st"},"transform":[{"filter":"datum.panel==='L'"}],"mark":{"type":"text","align":"left","baseline":"alphabetic","fontSize":14},"encoding":{"x":{"datum":15.5},"y":{"datum":-20.3},"text":{"field":"r"}}},
{"data":{"name":"st"},"transform":[{"filter":"datum.panel==='L'"}],"mark":{"type":"text","text":"p","align":"left","baseline":"alphabetic","fontSize":14,"fontStyle":"italic"},"encoding":{"x":{"datum":12.8},"y":{"datum":-27}}},
{"data":{"name":"st"},"transform":[{"filter":"datum.panel==='L'"}],"mark":{"type":"text","align":"left","baseline":"alphabetic","fontSize":14},"encoding":{"x":{"datum":15.5},"y":{"datum":-27},"text":{"field":"p"}}},
{"data":{"name":"fit"},"transform":[{"filter":"datum.panel==='L'"}],"mark":{"type":"line","color":"#8aa8a2","strokeWidth":1.2},"encoding":{"x":{"field":"x","type":"quantitative","scale":{"domain":[10,50],"nice":false,"zero":false}},"y":{"field":"y","type":"quantitative","scale":{"domain":[-30,30],"nice":false,"zero":false}}}},
{"data":{"name":"pts"},"transform":[{"filter":"datum.panel==='L'"}],"mark":{"type":"circle","size":48,"opacity":1,"color":"#3c1cf0"},"encoding":{"x":{"field":"x","type":"quantitative","axis":{"values":[10,20,30,40,50],"labelExpr":"(datum.value-10)%20===0?datum.label:''","labelPadding":5,"title":["Initial Variability","(mels)"]}},"y":{"field":"y","type":"quantitative","axis":{"values":[-30,-20,-10,0,10,20,30],"labelExpr":"datum.value%30===0?datum.label:''","title":null}}}}
]}
],
"config":{
"view":{"stroke":null},
"font":"Liberation Sans",
"text":{"font":"Liberation Sans","color":"#000"},
"axis":{"grid":false,"domainColor":"#000","domainWidth":1.5,"tickColor":"#000","tickWidth":1,"tickSize":-4,"labelFont":"Liberation Sans","labelFontSize":13.5,"labelColor":"#000","labelPadding":4,"labelOverlap":false,"labelFlush":false,"labelBound":false,"titleFont":"Liberation Sans","titleFontSize":13.5,"titleFontWeight":"normal","titleColor":"#000","titleLineHeight":15,"titlePadding":0}
}
}
